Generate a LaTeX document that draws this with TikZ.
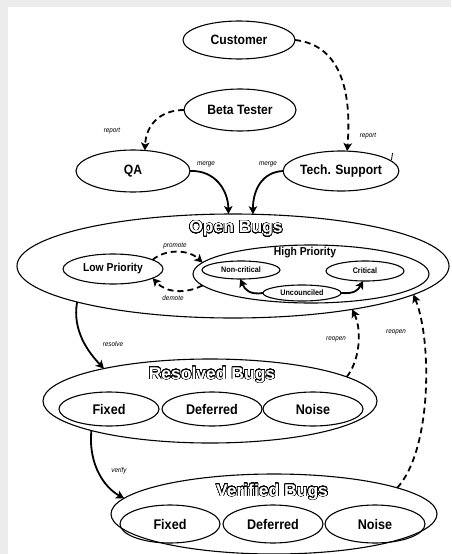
\documentclass[tikz,border=0pt]{standalone}
\usepackage{fontspec}
\setmainfont{Liberation Sans}[FakeStretch=0.9]
\newfontfamily\titlefont{Liberation Sans}[FakeStretch=1.03]
\usepackage{contour}
\contourlength{0.55pt}
\contournumber{32}
\usetikzlibrary{shapes.geometric,arrows.meta}
\definecolor{bggray}{RGB}{236,236,236}

\tikzset{
  state/.style={draw, ellipse, line width=1.1pt, inner sep=0pt, outer sep=0pt,
    font=\fontsize{13.5}{16}\selectfont\bfseries},
  substate/.style={state, font=\fontsize{14}{16}\selectfont\bfseries},
  smallstate/.style={state, font=\fontsize{8}{10}\selectfont\bfseries},
  midstate/.style={state, font=\fontsize{11.5}{13}\selectfont\bfseries},
  title/.style={inner sep=0pt, text=white,
    font=\titlefont\fontsize{17}{20}\selectfont\bfseries},
  lbl/.style={inner sep=0pt, font=\fontsize{7}{8}\selectfont\itshape},
  flow/.style={line width=1.8pt, -{Stealth[length=8pt,width=8.5pt,inset=2pt]}},
  dflow/.style={flow, dash pattern=on 6pt off 4pt},
}

\begin{document}
\begin{tikzpicture}[x=1pt,y=-1pt]
  \useasboundingbox (0,0) rectangle (451,554);
  \fill[bggray] (0,0) rectangle (451,554);
  \fill[white] (8,7) rectangle (451,554);

  % sources of bug reports
  \node[state, minimum width=112, minimum height=38] (cust) at (239,40) {Customer};
  \node[state, minimum width=112, minimum height=42] (beta) at (240,110) {Beta Tester};
  \node[state, minimum width=114, minimum height=42] (qa) at (133,171) {QA};
  \node[state, minimum width=108, minimum height=40] (tech) at (341,171) {Tech. Support};
  \draw[line width=0.8pt] (392.5,153) -- (391.5,160);

  % open bugs
  \node[state, minimum width=432, minimum height=104] (open) at (233,266) {};
  \node[title] (opentitle) at (236,229) {\contour{black}{Open Bugs}};
  \node[midstate, minimum width=100, minimum height=30] (low) at (113,269) {Low Priority};
  \node[state, minimum width=236, minimum height=58] (high) at (311,274) {};
  \node[inner sep=0pt, font=\fontsize{11.5}{13}\selectfont\bfseries] (hightitle) at (305,253) {High Priority};
  \node[smallstate, minimum width=78, minimum height=18] (noncrit) at (241,270) {Non-critical};
  \node[smallstate, minimum width=78, minimum height=20] (crit) at (365,271) {Critical};
  \node[smallstate, minimum width=78, minimum height=16] (unc) at (302,293) {Uncounciled};

  % resolved bugs
  \node[state, minimum width=334, minimum height=84] (resolved) at (210,401) {};
  \node[title] (restitle) at (212,375) {\contour{black}{Resolved Bugs}};
  \node[substate, minimum width=100, minimum height=34] (rfixed) at (109,409) {Fixed};
  \node[substate, minimum width=100, minimum height=34] (rdef) at (212,409) {Deferred};
  \node[substate, minimum width=100, minimum height=34] (rnoise) at (313,409) {Noise};

  % verified bugs
  \node[state, minimum width=326, minimum height=80] (verified) at (274,514) {};
  \node[title] (vertitle) at (272,492) {\contour{black}{Verified Bugs}};
  \node[substate, minimum width=100, minimum height=38] (vfixed) at (170,524) {Fixed};
  \node[substate, minimum width=100, minimum height=38] (vdef) at (273,524) {Deferred};
  \node[substate, minimum width=100, minimum height=38] (vnoise) at (375,524) {Noise};

  % reporting and merging
  \draw[dflow] (cust.east) .. controls (340,45) and (352,90) .. (tech.73);
  \node[lbl] at (368,136) {report};
  \draw[dflow] (beta.west) .. controls (160,110) and (146,125) .. (qa.60);
  \node[lbl] at (112,131) {report};
  \draw[flow] (qa.east) .. controls (215,170) and (228,190) .. (open.95.6);
  \node[lbl] at (206,164) {merge};
  \draw[flow] (tech.west) .. controls (262,172) and (253,190) .. (open.69.5);
  \node[lbl] at (268,164) {merge};

  % priority changes
  \draw[dflow] (low.13) .. controls (165,249) and (188,249) .. (high.174);
  \node[lbl] at (175,246) {promote};
  \draw[dflow] (high.186) .. controls (186,294) and (166,293) .. (low.347);
  \node[lbl] at (173,298) {demote};
  \draw[flow] (unc.west) .. controls (250,295) and (245,290) .. (noncrit.265);
  \draw[flow] (unc.east) .. controls (355,294) and (358,290) .. (crit.260);

  % resolution cycle
  \draw[flow] (open.193) .. controls (72,330) and (88,352) .. (resolved.163);
  \node[lbl] at (113,344) {resolve};
  \draw[flow] (resolved.194) .. controls (88,465) and (105,488) .. (verified.174.4);
  \node[lbl] at (119,471) {verify};
  \draw[dflow] (resolved.10) .. controls (360,360) and (362,330) .. (open.340.6);
  \node[lbl] at (336,339) {reopen};
  \draw[dflow] (verified.12) .. controls (432,450) and (432,340) .. (open.351);
  \node[lbl] at (396,332) {reopen};
\end{tikzpicture}
\end{document}
